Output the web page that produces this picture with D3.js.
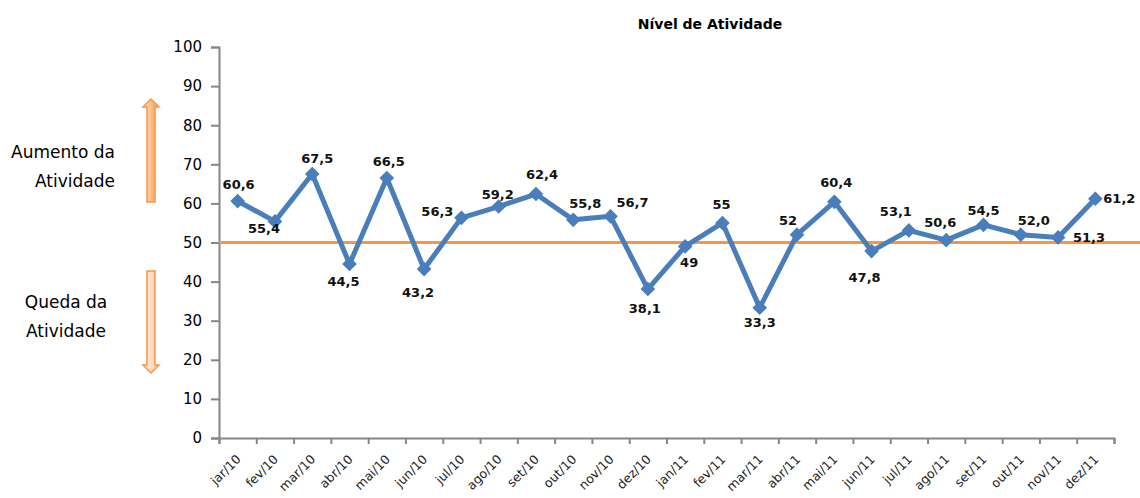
<!DOCTYPE html>
<html><head><meta charset="utf-8">
<script src="https://cdn.jsdelivr.net/npm/d3@7"></script>
<style>body{margin:0;background:#fff}svg{display:block}</style>
</head><body>
<svg id="c" width="1140" height="498"></svg>
<script>
const categories = ["jar/10","fev/10","mar/10","abr/10","mai/10","jun/10","jul/10","ago/10","set/10","out/10","nov/10","dez/10",
  "jan/11","fev/11","mar/11","abr/11","mai/11","jun/11","jul/11","ago/11","set/11","out/11","nov/11","dez/11"];
const values = [60.6,55.4,67.5,44.5,66.5,43.2,56.3,59.2,62.4,55.8,56.7,38.1,49,55,33.3,52,60.4,47.8,53.1,50.6,54.5,52.0,51.3,61.2];
const valueLabels = ["60,6","55,4","67,5","44,5","66,5","43,2","56,3","59,2","62,4","55,8","56,7","38,1","49","55","33,3","52","60,4","47,8","53,1","50,6","54,5","52,0","51,3","61,2"];
const yTicks = [0,10,20,30,40,50,60,70,80,90,100];
const threshold = 50;
const title = "Nível de Atividade";
// label placement offsets relative to each point (layout only)
const labelOffsets = [[1,-16],[-11,8],[5,-15],[-6,18],[2,-15],[-6,24],[-24,-5],[-1,-11],[6,-19],[12,-15],[22,-13],[-3,20],
  [4,17],[-1,-17],[0,16],[-9,-13],[2,-18],[-7,27],[-13,-18],[-6,-17],[0,-13],[13,-13],[31,1],[24,1]];

(function () {
const svg = d3.select("#c");
const mLeft = 219, mRight = 1114, mTop = 47, mBottom = 438;
const x = d3.scaleBand().domain(categories).range([mLeft, mRight]);
const xEdge = d3.scaleLinear().domain([0, categories.length]).range([mLeft, mRight]);
const y = d3.scaleLinear().domain([0, 100]).range([mBottom, mTop]);
const font = "'DejaVu Sans', Verdana, sans-serif";

// title
svg.append("text").attr("x", 710).attr("y", 29).attr("text-anchor", "middle")
  .attr("font-family", font).attr("font-weight", "bold").attr("font-size", 14).attr("fill", "#000").text(title);

// y axis
const gy = svg.append("g").attr("transform", `translate(${mLeft},0)`)
  .call(d3.axisLeft(y).tickValues(yTicks).tickSize(8).tickPadding(9).tickFormat(d3.format("d")));
gy.select(".domain").attr("stroke", "#868686").attr("stroke-width", 2);
gy.selectAll(".tick line").attr("stroke", "#868686").attr("stroke-width", 2);
gy.selectAll(".tick text").attr("font-family", font).attr("font-size", 15).attr("fill", "#000");

// x axis: tick marks at category boundaries
const gxt = svg.append("g").attr("transform", `translate(0,${mBottom})`)
  .call(d3.axisBottom(xEdge).tickValues(d3.range(categories.length + 1)).tickSize(6).tickFormat(""));
gxt.select(".domain").attr("stroke", "#868686").attr("stroke-width", 2);
gxt.selectAll(".tick line").attr("stroke", "#868686").attr("stroke-width", 2);

const gx = svg.append("g").attr("transform", `translate(0,${mBottom})`)
  .call(d3.axisBottom(x).tickSize(0).tickPadding(0));
gx.select(".domain").remove();
gx.selectAll(".tick text")
  .attr("font-family", font).attr("font-size", 12.5).attr("fill", "#222")
  .attr("text-anchor", "end").attr("dy", 0)
  .attr("transform", "translate(4,22) rotate(-45)");

// threshold line
svg.append("line").attr("x1", mLeft).attr("x2", 1140).attr("y1", y(threshold)).attr("y2", y(threshold))
  .attr("stroke", "#F79646").attr("stroke-width", 3);

// series line
const cx = (d, i) => x(categories[i]) + x.bandwidth() / 2;
svg.append("path").datum(values)
  .attr("fill", "none").attr("stroke", "#4A7EBB").attr("stroke-width", 5).attr("stroke-linejoin", "round")
  .attr("d", d3.line().x(cx).y(d => y(d)));

// markers
svg.append("g").selectAll("path").data(values).join("path")
  .attr("d", d3.symbol(d3.symbolDiamond2, 100))
  .attr("transform", (d, i) => `translate(${cx(d, i)},${y(d)})`)
  .attr("fill", "#4A7EBB").attr("stroke", "#4A7EBB").attr("stroke-width", 1.5);

// data labels
svg.append("g").selectAll("text").data(values).join("text")
  .attr("x", (d, i) => cx(d, i) + labelOffsets[i][0])
  .attr("y", (d, i) => y(d) + labelOffsets[i][1])
  .attr("text-anchor", "middle").attr("dominant-baseline", "middle")
  .attr("font-family", font).attr("font-weight", "bold").attr("font-size", 13).attr("fill", "#111")
  .text((d, i) => valueLabels[i]);

// side annotations
const defs = svg.append("defs");
const g1 = defs.append("linearGradient").attr("id", "gUp").attr("x1", 0).attr("x2", 1).attr("y1", 0).attr("y2", 0);
g1.append("stop").attr("offset", "0%").attr("stop-color", "#fde4cf");
g1.append("stop").attr("offset", "100%").attr("stop-color", "#f79646");
const g2 = defs.append("linearGradient").attr("id", "gDown").attr("x1", 0).attr("x2", 1).attr("y1", 0).attr("y2", 0);
g2.append("stop").attr("offset", "0%").attr("stop-color", "#fff0e4");
g2.append("stop").attr("offset", "100%").attr("stop-color", "#fbc89e");

function arrow(xc, yTip, yHead, yEnd, fill) {
  const sw = 4, hw = 8;
  const p = d3.path();
  p.moveTo(xc, yTip);
  p.lineTo(xc + hw, yHead);
  p.lineTo(xc + sw, yHead);
  p.lineTo(xc + sw, yEnd);
  p.lineTo(xc - sw, yEnd);
  p.lineTo(xc - sw, yHead);
  p.lineTo(xc - hw, yHead);
  p.closePath();
  svg.append("path").attr("d", p.toString()).attr("fill", fill).attr("stroke", "#F79646").attr("stroke-width", 1.5);
}
arrow(151, 99, 107, 202, "url(#gUp)");
arrow(151, 373, 365, 271, "url(#gDown)");

const ann = svg.append("g").attr("font-family", font).attr("font-size", 17).attr("fill", "#000");
ann.append("text").attr("x", 115).attr("y", 158).attr("text-anchor", "end").text("Aumento da");
ann.append("text").attr("x", 115).attr("y", 187).attr("text-anchor", "end").text("Atividade");
ann.append("text").attr("x", 66).attr("y", 308).attr("text-anchor", "middle").text("Queda da");
ann.append("text").attr("x", 66).attr("y", 337).attr("text-anchor", "middle").text("Atividade");
})();
</script>
</body></html>
